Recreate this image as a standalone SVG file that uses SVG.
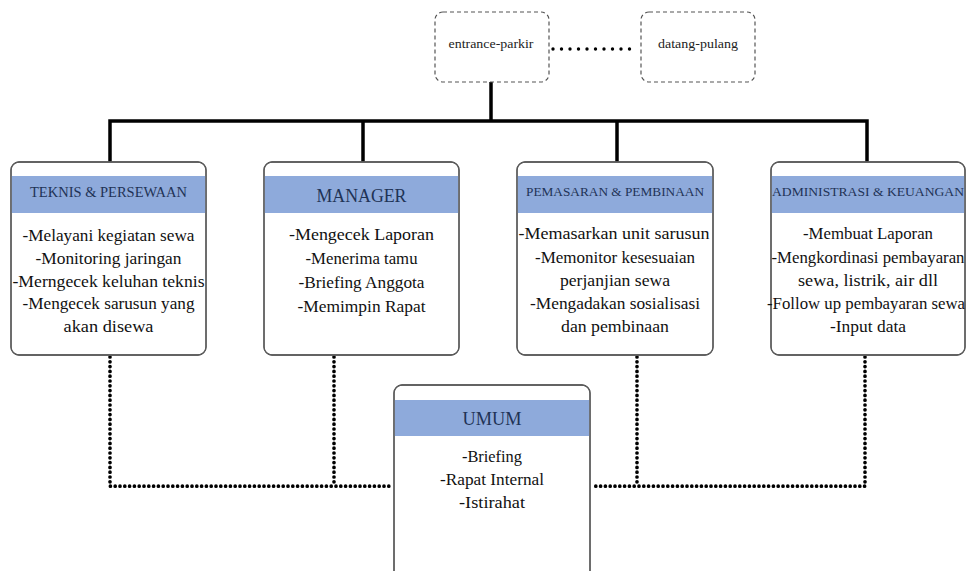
<svg xmlns="http://www.w3.org/2000/svg" width="966" height="571" viewBox="0 0 966 571">
<style>
  .box{fill:#fff;stroke:#5a5a5a;stroke-width:1.3}
  .outline{fill:none;stroke:#5a5a5a;stroke-width:1.3}
  .dash{fill:#fff;stroke:#555;stroke-width:1.2;stroke-dasharray:4 3}
  .hdr{fill:#8eaadb}
  text{font-family:'Liberation Serif',Tinos,'Times New Roman','DejaVu Serif',serif}
  .ht{fill:#1f3356;text-anchor:middle}
  .bt{fill:#111;font-size:17px;text-anchor:middle}
  .st{fill:#222;text-anchor:middle}
  .solid{fill:none;stroke:#000;stroke-width:3.5}
  .dots{fill:none;stroke:#000;stroke-width:3.7;stroke-linecap:round;stroke-dasharray:0 4.8}
  .dots2{fill:none;stroke:#000;stroke-width:3.4;stroke-linecap:round;stroke-dasharray:0 8.5}
</style>
<rect width="966" height="571" fill="#fff"/>
<g id="connectors">
  <path class="solid" d="M491 82 V121"/>
  <path class="solid" d="M110 162 V121 H867 V162"/>
  <path class="solid" d="M363 121 V162"/>
  <path class="solid" d="M617 121 V162"/>
  <path class="dots2" d="M553 49 H637"/>
  <path class="dots" d="M110 357 V486.2 H392"/>
  <path class="dots" d="M334 357 V486"/>
  <path class="dots" d="M865 357 V486.2 H592"/>
  <path class="dots" d="M637 357 V486"/>
</g>
<g id="entrance-parkir">
  <rect class="dash" x="435" y="12" width="114" height="70" rx="8"/>
  <text class="st" x="491" y="48" font-size="13" textLength="85" lengthAdjust="spacingAndGlyphs">entrance-parkir</text>
</g>
<g id="datang-pulang">
  <rect class="dash" x="641" y="12" width="114" height="70" rx="8"/>
  <text class="st" x="698" y="48" font-size="13.5" textLength="80" lengthAdjust="spacingAndGlyphs">datang-pulang</text>
</g>
<g id="teknis">
  <rect class="box" x="11" y="162" width="195" height="193" rx="8"/>
  <rect class="hdr" x="11.6" y="176" width="193.8" height="37"/>
  <rect class="outline" x="11" y="162" width="195" height="193" rx="8"/>
  <text class="ht" x="108.5" y="197" font-size="14" textLength="157" lengthAdjust="spacingAndGlyphs">TEKNIS &amp; PERSEWAAN</text>
  <text class="bt" x="108.5" y="241" textLength="172" lengthAdjust="spacingAndGlyphs">-Melayani kegiatan sewa</text>
  <text class="bt" x="108.5" y="264" textLength="146" lengthAdjust="spacingAndGlyphs">-Monitoring jaringan</text>
  <text class="bt" x="108.5" y="287" textLength="192" lengthAdjust="spacingAndGlyphs">-Merngecek keluhan teknis</text>
  <text class="bt" x="108.5" y="309" textLength="172" lengthAdjust="spacingAndGlyphs">-Mengecek sarusun yang</text>
  <text class="bt" x="108.5" y="332" textLength="90" lengthAdjust="spacingAndGlyphs">akan disewa</text>
</g>
<g id="manager">
  <rect class="box" x="264" y="162" width="195" height="193" rx="8"/>
  <rect class="hdr" x="264.6" y="176" width="193.8" height="37"/>
  <rect class="outline" x="264" y="162" width="195" height="193" rx="8"/>
  <text class="ht" x="361.5" y="202" font-size="18" textLength="90" lengthAdjust="spacingAndGlyphs">MANAGER</text>
  <text class="bt" x="361.5" y="240" font-size="18" textLength="145" lengthAdjust="spacingAndGlyphs">-Mengecek Laporan</text>
  <text class="bt" x="361.5" y="264" font-size="18" textLength="112" lengthAdjust="spacingAndGlyphs">-Menerima tamu</text>
  <text class="bt" x="361.5" y="288" font-size="18" textLength="126" lengthAdjust="spacingAndGlyphs">-Briefing Anggota</text>
  <text class="bt" x="361.5" y="312" font-size="18" textLength="128" lengthAdjust="spacingAndGlyphs">-Memimpin Rapat</text>
</g>
<g id="pemasaran">
  <rect class="box" x="517" y="162" width="196" height="193" rx="8"/>
  <rect class="hdr" x="517.6" y="176" width="194.8" height="37"/>
  <rect class="outline" x="517" y="162" width="196" height="193" rx="8"/>
  <text class="ht" x="615" y="196" font-size="13" textLength="178" lengthAdjust="spacingAndGlyphs">PEMASARAN &amp; PEMBINAAN</text>
  <text class="bt" x="614" y="239" textLength="191" lengthAdjust="spacingAndGlyphs">-Memasarkan unit sarusun</text>
  <text class="bt" x="615" y="263" textLength="160" lengthAdjust="spacingAndGlyphs">-Memonitor kesesuaian</text>
  <text class="bt" x="615" y="286" textLength="110" lengthAdjust="spacingAndGlyphs">perjanjian sewa</text>
  <text class="bt" x="615" y="309" textLength="170" lengthAdjust="spacingAndGlyphs">-Mengadakan sosialisasi</text>
  <text class="bt" x="615" y="332" textLength="108" lengthAdjust="spacingAndGlyphs">dan pembinaan</text>
</g>
<g id="administrasi">
  <rect class="box" x="771" y="162" width="194" height="193" rx="8"/>
  <rect class="hdr" x="771.6" y="176" width="192.8" height="37"/>
  <rect class="outline" x="771" y="162" width="194" height="193" rx="8"/>
  <text class="ht" x="868" y="196" font-size="13.5" textLength="192" lengthAdjust="spacingAndGlyphs">ADMINISTRASI &amp; KEUANGAN</text>
  <text class="bt" x="868" y="239" textLength="130" lengthAdjust="spacingAndGlyphs">-Membuat Laporan</text>
  <text class="bt" x="868" y="263" textLength="193" lengthAdjust="spacingAndGlyphs">-Mengkordinasi pembayaran</text>
  <text class="bt" x="868" y="286" textLength="140" lengthAdjust="spacingAndGlyphs">sewa, listrik, air dll</text>
  <text class="bt" x="866" y="309" textLength="198" lengthAdjust="spacingAndGlyphs">-Follow up pembayaran sewa</text>
  <text class="bt" x="868" y="332" textLength="76" lengthAdjust="spacingAndGlyphs">-Input data</text>
</g>
<g id="umum">
  <rect class="box" x="394" y="385" width="196" height="210" rx="8"/>
  <rect class="hdr" x="394.6" y="400" width="194.8" height="36"/>
  <rect class="outline" x="394" y="385" width="196" height="210" rx="8"/>
  <text class="ht" x="492" y="425" font-size="18" textLength="59" lengthAdjust="spacingAndGlyphs">UMUM</text>
  <text class="bt" x="492" y="462" textLength="60" lengthAdjust="spacingAndGlyphs">-Briefing</text>
  <text class="bt" x="492" y="485" textLength="104" lengthAdjust="spacingAndGlyphs">-Rapat Internal</text>
  <text class="bt" x="492" y="508" textLength="66" lengthAdjust="spacingAndGlyphs">-Istirahat</text>
</g>
</svg>
